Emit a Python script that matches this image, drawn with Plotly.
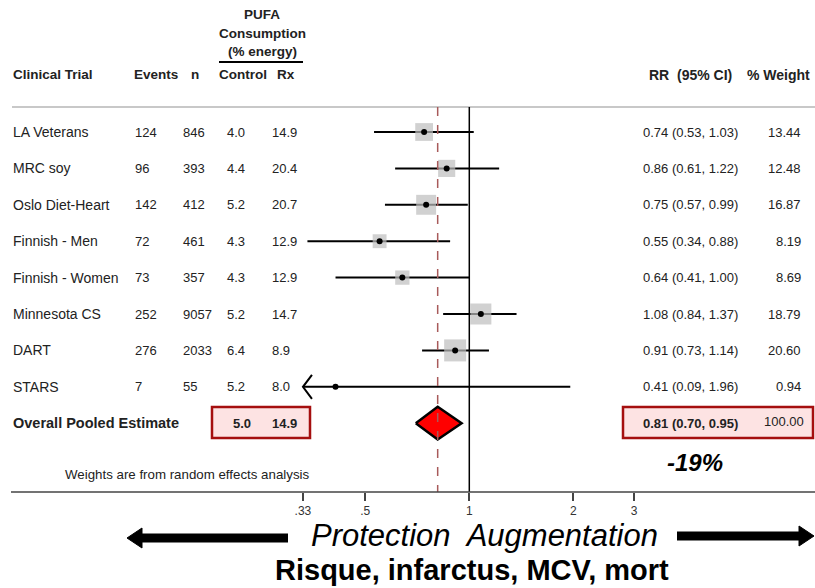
import plotly.graph_objects as go
import math

# ---------------- data ----------------
trials = ["LA Veterans", "MRC soy", "Oslo Diet-Heart", "Finnish - Men",
          "Finnish - Women", "Minnesota CS", "DART", "STARS"]
events = [124, 96, 142, 72, 73, 252, 276, 7]
n_subj = [846, 393, 412, 461, 357, 9057, 2033, 55]
control = ["4.0", "4.4", "5.2", "4.3", "4.3", "5.2", "6.4", "5.2"]
rx = ["14.9", "20.4", "20.7", "12.9", "12.9", "14.7", "8.9", "8.0"]
rr = [0.74, 0.86, 0.75, 0.55, 0.64, 1.08, 0.91, 0.41]
rr_lo = [0.53, 0.61, 0.57, 0.34, 0.41, 0.84, 0.73, 0.09]
rr_hi = [1.03, 1.22, 0.99, 0.88, 1.00, 1.37, 1.14, 1.96]
weights = [13.44, 12.48, 16.87, 8.19, 8.69, 18.79, 20.60, 0.94]

pooled_label = "Overall Pooled Estimate"
pooled_control = "5.0"
pooled_rx = "14.9"
pooled_rr, pooled_lo, pooled_hi = 0.81, 0.70, 0.95
pooled_weight = "100.00"
reduction_label = "-19%"

tick_vals = [0.33, 0.5, 1, 2, 3]
tick_text = [".33", ".5", "1", "2", "3"]
axis_min = 0.33

# ---------------- layout helpers ----------------
W, H = 815, 588
FONT = "Liberation Sans, Arial, sans-serif"
def X(px): return px / W
def Y(py): return 1 - py / H

row_top, row_step = 132, 36.4
axis_py = 492
y_top = (0 - row_top) / row_step
y_bot = (axis_py - row_top) / row_step
one_px, px_per_dec = 469.3, 345.5
x_left = (0 - one_px) / px_per_dec
x_right = (W - one_px) / px_per_dec

fig = go.Figure()

rows = list(range(len(trials)))
pooled_row = len(trials)

# CI lines
for i in rows:
    lo = max(rr_lo[i], axis_min)
    fig.add_trace(go.Scatter(x=[lo, rr_hi[i]], y=[i, i], mode="lines",
                             line=dict(color="black", width=2),
                             hoverinfo="skip", showlegend=False))
    if rr_lo[i] < axis_min:
        k = 10 ** (9 / px_per_dec)
        fig.add_trace(go.Scatter(x=[axis_min * k, axis_min, axis_min * k],
                                 y=[i - 0.33, i, i + 0.33], mode="lines",
                                 line=dict(color="black", width=2),
                                 hoverinfo="skip", showlegend=False))

# weight squares
fig.add_trace(go.Scatter(x=rr, y=rows, mode="markers",
                         marker=dict(symbol="square", color="#bdbdbd",
                                     size=[4.85 * math.sqrt(w) for w in weights],
                                     line=dict(width=0)),
                         hoverinfo="skip", showlegend=False))
# point estimates
fig.add_trace(go.Scatter(x=rr, y=rows, mode="markers",
                         marker=dict(symbol="circle", color="black", size=6),
                         hoverinfo="skip", showlegend=False))

# pooled diamond
fig.add_trace(go.Scatter(
    x=[pooled_lo, pooled_rr, pooled_hi, pooled_rr, pooled_lo],
    y=[pooled_row, pooled_row - 0.45, pooled_row, pooled_row + 0.45, pooled_row],
    mode="lines", fill="toself", fillcolor="#ff0000",
    line=dict(color="black", width=2.5), hoverinfo="skip", showlegend=False))

shapes = []
# header separator
shapes.append(dict(type="line", xref="paper", yref="paper", x0=X(12), x1=X(815),
                   y0=Y(107), y1=Y(107), line=dict(color="#c8c8c8", width=2)))
# PUFA underline
shapes.append(dict(type="line", xref="paper", yref="paper", x0=X(219), x1=X(303),
                   y0=Y(62), y1=Y(62), line=dict(color="black", width=2)))
# null line at 1 and pooled dashed line
shapes.append(dict(type="line", xref="x", yref="paper", x0=1, x1=1,
                   y0=Y(107), y1=Y(axis_py), line=dict(color="black", width=1.5)))
shapes.append(dict(type="line", xref="x", yref="paper", x0=pooled_rr, x1=pooled_rr,
                   y0=Y(107), y1=Y(axis_py),
                   line=dict(color="#a85a5a", width=1.5, dash="dash")))
# axis line
shapes.append(dict(type="line", xref="paper", yref="paper", x0=X(11), x1=X(815),
                   y0=Y(axis_py), y1=Y(axis_py), line=dict(color="#444", width=1.5)))
# pooled boxes
for x0, x1 in [(212, 310), (623, 813)]:
    shapes.append(dict(type="rect", xref="paper", yref="paper", x0=X(x0), x1=X(x1),
                       y0=Y(407), y1=Y(438), fillcolor="#fde3e3",
                       line=dict(color="#a50f0f", width=2.5), layer="below"))
# bottom arrows
shapes.append(dict(type="line", xref="paper", yref="paper", x0=X(138), x1=X(288),
                   y0=Y(538), y1=Y(538), line=dict(color="black", width=9)))
shapes.append(dict(type="path", xref="paper", yref="paper",
                   path=f"M {X(127)} {Y(538)} L {X(142)} {Y(528)} L {X(142)} {Y(548)} Z",
                   fillcolor="black", line=dict(color="black", width=1)))
shapes.append(dict(type="line", xref="paper", yref="paper", x0=X(677), x1=X(801),
                   y0=Y(536), y1=Y(536), line=dict(color="black", width=9)))
shapes.append(dict(type="path", xref="paper", yref="paper",
                   path=f"M {X(814)} {Y(536)} L {X(799)} {Y(526)} L {X(799)} {Y(546)} Z",
                   fillcolor="black", line=dict(color="black", width=1)))

ann = []
def txt(text, x, y, size=13, bold=False, italic=False, xanchor="left",
        yref="paper", color="#222", family=FONT, pad=1):
    if bold:
        text = f"<b>{text}</b>"
    if italic:
        text = f"<i>{text}</i>"
    ann.append(dict(text=text, x=x, y=y, xref="paper", yref=yref, xanchor=xanchor,
                    yanchor="middle", showarrow=False, borderpad=pad,
                    font=dict(size=size, color=color, family=family)))

# headers
txt("PUFA", X(262), Y(15), 13.5, bold=True, xanchor="center")
txt("Consumption", X(262), Y(33), 13.5, bold=True, xanchor="center")
txt("(% energy)", X(262), Y(51), 13.5, bold=True, xanchor="center")
txt("Clinical Trial", X(11), Y(75), 13.5, bold=True)
txt("Events", X(132), Y(75), 13.5, bold=True)
txt("n", X(189), Y(75), 13.5, bold=True)
txt("Control", X(217), Y(75), 13.5, bold=True)
txt("Rx", X(275), Y(75), 13.5, bold=True)
txt("RR  (95% CI)", X(647), Y(75), 14, bold=True)
txt("% Weight", X(745), Y(75), 14, bold=True)

# rows
for i in rows:
    txt(trials[i], X(11), i, 14, yref="y")
    txt(str(events[i]), X(133), i, 13, yref="y")
    txt(str(n_subj[i]), X(181), i, 13, yref="y")
    txt(control[i], X(225), i, 13, yref="y")
    txt(rx[i], X(270), i, 13, yref="y")
    txt(f"{rr[i]:.2f} ({rr_lo[i]:.2f}, {rr_hi[i]:.2f})", X(641), i, 13, yref="y")
    txt(f"{weights[i]:.2f}", X(803), i, 13, yref="y", xanchor="right")

# pooled row
txt(pooled_label, X(11), pooled_row, 14.5, bold=True, yref="y")
txt(pooled_control, X(231), pooled_row, 13, bold=True, yref="y")
txt(pooled_rx, X(270), pooled_row, 13, bold=True, yref="y")
txt(f"{pooled_rr:.2f} ({pooled_lo:.2f}, {pooled_hi:.2f})", X(641), pooled_row, 13,
    bold=True, yref="y")
txt(pooled_weight, X(806), pooled_row - 0.05, 13, yref="y", xanchor="right")
txt(reduction_label, X(695), Y(462), 24, bold=True, italic=True, xanchor="center",
    color="black")
txt("Weights are from random effects analysis", X(63), Y(474), 13.3)

# bottom labels
txt("Protection  Augmentation", X(484), Y(535), 31, italic=True, xanchor="center",
    color="black", pad=0)
txt("Risque, infarctus, MCV, mort", X(472), Y(570), 29, bold=True,
    xanchor="center", color="black", pad=0)

fig.update_layout(
    width=W, height=H, margin=dict(l=0, r=0, t=0, b=0),
    paper_bgcolor="white", plot_bgcolor="white",
    shapes=shapes, annotations=ann, showlegend=False,
    font=dict(family=FONT, color="#222"),
    xaxis=dict(type="log", range=[x_left, x_right], tickvals=tick_vals,
               ticktext=tick_text, ticks="outside", ticklen=8, tickwidth=1.5,
               tickcolor="#444", showline=False,
               showgrid=False, zeroline=False,
               tickfont=dict(size=12, color="#333", family=FONT)),
    yaxis=dict(range=[y_bot, y_top], domain=[Y(axis_py), 1], visible=False,
               showgrid=False, zeroline=False),
)

fig.write_html("out.html")
